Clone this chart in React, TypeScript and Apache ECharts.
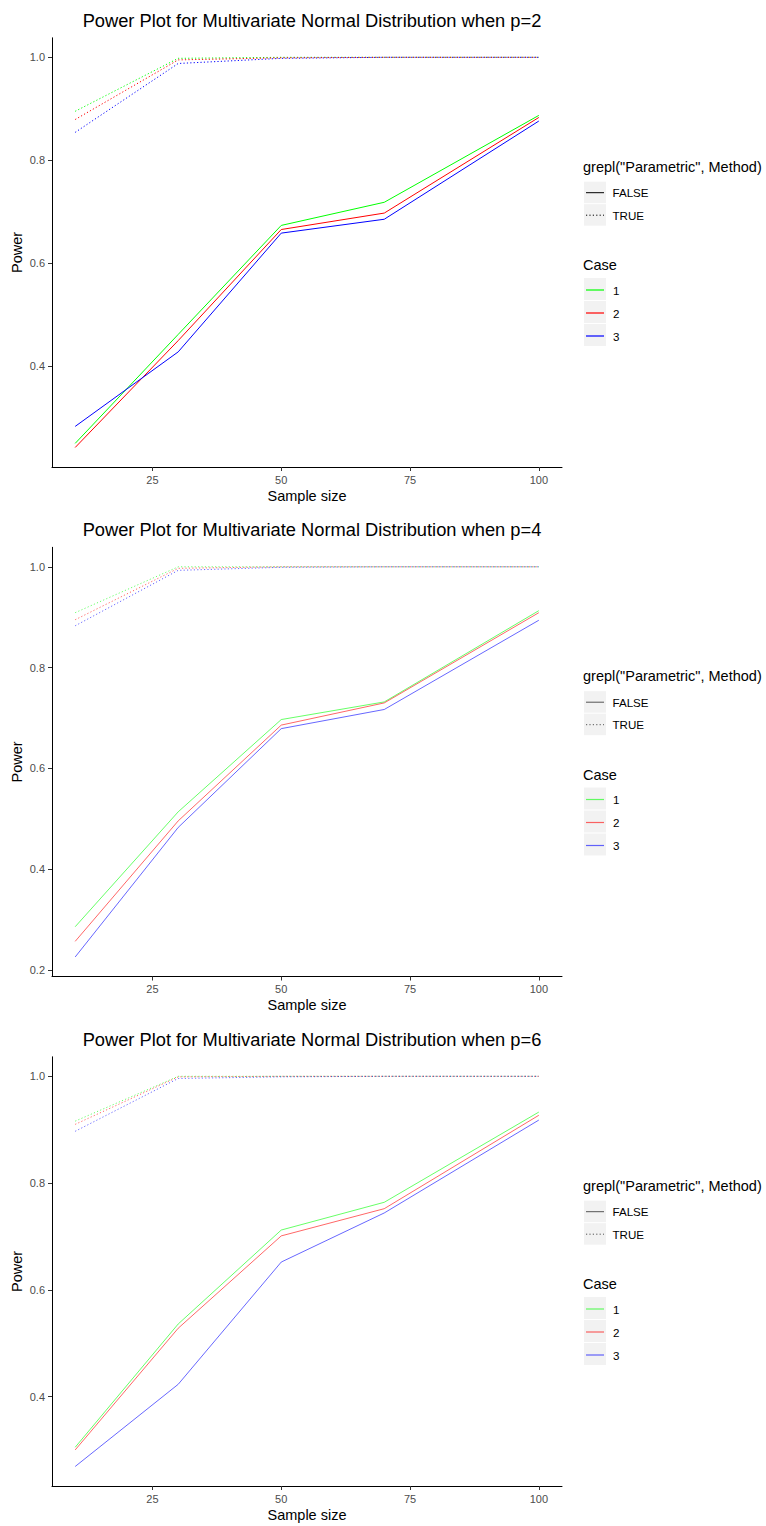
import React, { useEffect, useRef } from "react";
import * as echarts from "echarts";

// ---------- data ----------
const sampleSizes = [10, 30, 50, 70, 100];
const caseNames = ["1", "2", "3"];
const methodNames = ["FALSE", "TRUE"];
const yTickValues = [0.2, 0.4, 0.6, 0.8, 1.0];
const xTickValues = [25, 50, 75, 100];
const panelTitles = [
  "Power Plot for Multivariate Normal Distribution when p=2",
  "Power Plot for Multivariate Normal Distribution when p=4",
  "Power Plot for Multivariate Normal Distribution when p=6",
];

// p = 2
const p2NonParCase1 = [0.249, 0.461, 0.673, 0.718, 0.887];
const p2NonParCase2 = [0.241, 0.449, 0.665, 0.697, 0.883];
const p2NonParCase3 = [0.282, 0.427, 0.658, 0.685, 0.876];
const p2ParCase1 = [0.895, 0.998, 1.0, 1.0, 1.0];
const p2ParCase2 = [0.879, 0.995, 0.999, 1.0, 1.0];
const p2ParCase3 = [0.854, 0.988, 0.998, 1.0, 1.0];

// p = 4
const p4NonParCase1 = [0.286, 0.514, 0.697, 0.732, 0.913];
const p4NonParCase2 = [0.257, 0.496, 0.686, 0.73, 0.909];
const p4NonParCase3 = [0.226, 0.483, 0.679, 0.717, 0.894];
const p4ParCase1 = [0.909, 1.0, 1.0, 1.0, 1.0];
const p4ParCase2 = [0.895, 0.997, 1.0, 1.0, 1.0];
const p4ParCase3 = [0.883, 0.993, 0.999, 1.0, 1.0];

// p = 6
const p6NonParCase1 = [0.305, 0.536, 0.712, 0.764, 0.933];
const p6NonParCase2 = [0.3, 0.528, 0.701, 0.752, 0.927];
const p6NonParCase3 = [0.269, 0.423, 0.652, 0.744, 0.918];
const p6ParCase1 = [0.916, 1.0, 1.0, 1.0, 1.0];
const p6ParCase2 = [0.91, 0.999, 1.0, 1.0, 1.0];
const p6ParCase3 = [0.897, 0.996, 0.999, 1.0, 1.0];

const panelNonPar = [
  [p2NonParCase1, p2NonParCase2, p2NonParCase3],
  [p4NonParCase1, p4NonParCase2, p4NonParCase3],
  [p6NonParCase1, p6NonParCase2, p6NonParCase3],
];
const panelPar = [
  [p2ParCase1, p2ParCase2, p2ParCase3],
  [p4ParCase1, p4ParCase2, p4ParCase3],
  [p6ParCase1, p6ParCase2, p6ParCase3],
];

// ---------- styles ----------
const caseColors = ["#00FF00", "#FF0000", "#0000FF"];
const panelOpacity = [1, 0.6, 0.6];
const FONT = "Liberation Sans, Arial, sans-serif";
const PANEL_STEP = 509.5;
const GRID_LEFT = 52;
const GRID_RIGHT_X = 562;
const GRID_TOP0 = 37.8;
const GRID_BOTTOM0 = 467;

function expandRange(arrs: number[][]) {
  let lo = Infinity;
  let hi = -Infinity;
  arrs.forEach((a) => a.forEach((v) => { lo = Math.min(lo, v); hi = Math.max(hi, v); }));
  const pad = (hi - lo) * 0.05;
  return [lo - pad, hi + pad];
}

function buildOption() {
  const grid: any[] = [];
  const xAxis: any[] = [];
  const yAxis: any[] = [];
  const series: any[] = [];
  const graphic: any[] = [];

  for (let i = 0; i < 3; i++) {
    const off = i * PANEL_STEP;
    const [ymin, ymax] = expandRange([...panelNonPar[i], ...panelPar[i]]);
    const top = GRID_TOP0 + off;
    const height = GRID_BOTTOM0 - GRID_TOP0;
    grid.push({
      left: GRID_LEFT,
      top,
      width: GRID_RIGHT_X - GRID_LEFT,
      height,
      containLabel: false,
      outerBoundsMode: "none",
    });
    xAxis.push({
      type: "value",
      gridIndex: i,
      min: 5.5,
      max: 104.5,
      name: "Sample size",
      nameLocation: "middle",
      nameGap: 21,
      nameMoveOverlap: false,
      nameTextStyle: { fontFamily: FONT, fontSize: 14.5, color: "#000", verticalAlign: "top" },
      axisLine: { show: true, onZero: false, lineStyle: { color: "#000", width: 1 } },
      axisTick: { show: true, length: 4, lineStyle: { color: "#333" }, customValues: xTickValues },
      axisLabel: { show: true, margin: 7, fontFamily: FONT, fontSize: 11, color: "#4D4D4D", customValues: xTickValues },
      splitLine: { show: false },
    });
    const yTicks = yTickValues.filter((v) => v >= ymin && v <= ymax);
    yAxis.push({
      type: "value",
      gridIndex: i,
      min: ymin,
      max: ymax,
      name: "Power",
      nameLocation: "middle",
      nameGap: 28,
      nameRotate: 90,
      nameMoveOverlap: false,
      nameTextStyle: { fontFamily: FONT, fontSize: 14.5, color: "#000" },
      axisLine: { show: true, onZero: false, lineStyle: { color: "#000", width: 1 } },
      axisTick: { show: true, length: 4, lineStyle: { color: "#333" }, customValues: yTicks },
      axisLabel: {
        show: true,
        margin: 7,
        fontFamily: FONT,
        fontSize: 11,
        color: "#4D4D4D",
        customValues: yTicks,
        formatter: (v: number) => v.toFixed(1),
      },
      splitLine: { show: false },
    });

    const op = panelOpacity[i];
    [panelNonPar[i], panelPar[i]].forEach((group, m) => {
      group.forEach((vals, c) => {
        series.push({
          type: "line",
          name: `p${i} ${methodNames[m]} ${caseNames[c]}`,
          xAxisIndex: i,
          yAxisIndex: i,
          data: sampleSizes.map((x, k) => [x, vals[k]]),
          symbol: "none",
          showSymbol: false,
          silent: true,
          lineStyle: {
            color: caseColors[c],
            width: 1,
            opacity: op,
            type: m === 0 ? "solid" : [1.2, 2.2],
          },
        });
      });
    });

    // Title
    graphic.push({
      type: "text",
      x: 312,
      y: 20 + off,
      style: {
        text: panelTitles[i],
        fontFamily: FONT,
        fontSize: 18.3,
        fill: "#000",
        textAlign: "center",
        textVerticalAlign: "middle",
      },
    });

    // Legend 1
    const lx = 583;
    graphic.push({
      type: "text",
      x: lx,
      y: 166.7 + off,
      style: { text: 'grepl("Parametric", Method)', fontFamily: FONT, fontSize: 14.5, fill: "#000", textVerticalAlign: "middle" },
    });
    const keyGrey = op < 1 ? "#555" : "#000";
    methodNames.forEach((mn, m) => {
      const ky = 181.7 + m * 22.5 + off;
      graphic.push({ type: "rect", shape: { x: 584, y: ky, width: 22, height: 21.5 }, style: { fill: "#F2F2F2" } });
      graphic.push({
        type: "line",
        shape: { x1: 586, y1: ky + 11, x2: 604, y2: ky + 11 },
        style: { stroke: keyGrey, lineWidth: 1, lineDash: m === 0 ? null : [1.2, 2.2] },
      });
      graphic.push({
        type: "text",
        x: 612.5,
        y: ky + 11,
        style: { text: mn, fontFamily: FONT, fontSize: 11.6, fill: "#000", textVerticalAlign: "middle" },
      });
    });

    // Legend 2
    graphic.push({
      type: "text",
      x: lx,
      y: 265 + off,
      style: { text: "Case", fontFamily: FONT, fontSize: 14.5, fill: "#000", textVerticalAlign: "middle" },
    });
    caseNames.forEach((cn, c) => {
      const ky = 278 + c * 23 + off;
      graphic.push({ type: "rect", shape: { x: 584, y: ky, width: 22, height: 22 }, style: { fill: "#F2F2F2" } });
      graphic.push({
        type: "line",
        shape: { x1: 586, y1: ky + 12, x2: 604, y2: ky + 12 },
        style: { stroke: caseColors[c], lineWidth: 1.2, opacity: op },
      });
      graphic.push({
        type: "text",
        x: 613,
        y: ky + 12,
        style: { text: cn, fontFamily: FONT, fontSize: 11.6, fill: "#000", textVerticalAlign: "middle" },
      });
    });
  }

  return {
    animation: false,
    backgroundColor: "#FFFFFF",
    textStyle: { fontFamily: FONT },
    grid,
    xAxis,
    yAxis,
    series,
    graphic,
  };
}

export default function App() {
  const ref = useRef<HTMLDivElement>(null);
  useEffect(() => {
    if (!ref.current) return;
    const chart = echarts.init(ref.current, null, { renderer: "svg" });
    chart.setOption(buildOption() as any);
    return () => chart.dispose();
  }, []);
  return (
    <div
      ref={ref}
      style={{ position: "absolute", left: 0, top: 0, width: 766, height: 1526, background: "#fff" }}
    />
  );
}
